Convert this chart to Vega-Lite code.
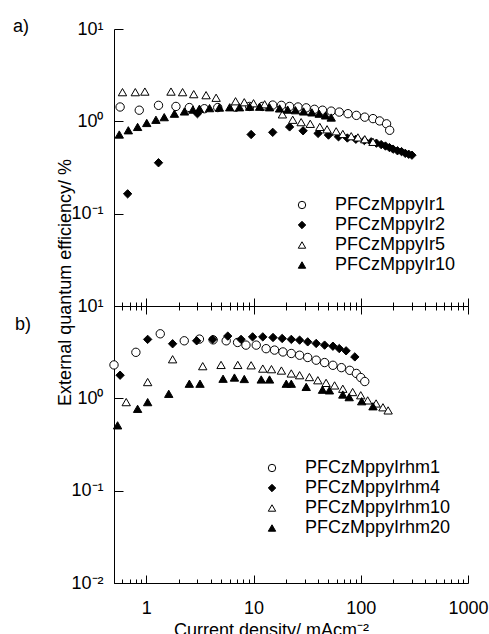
{
  "$schema": "https://vega.github.io/schema/vega-lite/v6.json",
  "background": "white",
  "padding": {"left": 13, "top": 18, "right": 5, "bottom": 0},
  "bounds": "flush",
  "spacing": 0,
  "config": {
    "font": "Liberation Sans",
    "view": {"stroke": null},
    "axis": {"labelFont": "Liberation Sans", "titleFont": "Liberation Sans", "labelColor": "black", "titleColor": "black", "domainColor": "black", "tickColor": "black", "grid": false, "titleFontWeight": "normal", "labelFontSize": 18, "titleFontSize": 18, "domainWidth": 1, "tickWidth": 1, "labelFlush": false, "labelOverlap": false},
    "legend": {"orient": "none", "title": null, "labelFontSize": 18, "labelFont": "Liberation Sans", "labelColor": "black", "symbolStrokeWidth": 1, "padding": 0, "rowPadding": 2, "labelOffset": 24, "symbolSize": 55},
    "title": {"font": "Liberation Sans", "fontSize": 18, "fontWeight": "normal", "color": "black"}
  },
  "resolve": {"scale": {"y": "independent", "shape": "independent", "fill": "independent", "stroke": "independent"}},
  "vconcat": [
    {
      "width": 354,
      "height": 277,
      "title": {"text": "a)", "anchor": "start", "frame": "group", "dx": -101, "dy": 16, "offset": 0},
      "data": {"values": [
        {"s": "PFCzMppyIr1", "j": 0.57, "e": 1.43}, {"s": "PFCzMppyIr1", "j": 0.86, "e": 1.32}, {"s": "PFCzMppyIr1", "j": 1.30, "e": 1.49}, {"s": "PFCzMppyIr1", "j": 1.89, "e": 1.45}, {"s": "PFCzMppyIr1", "j": 2.52, "e": 1.41}, {"s": "PFCzMppyIr1", "j": 3.48, "e": 1.37}, {"s": "PFCzMppyIr1", "j": 4.64, "e": 1.41}, {"s": "PFCzMppyIr1", "j": 6.8, "e": 1.42}, {"s": "PFCzMppyIr1", "j": 9.2, "e": 1.45}, {"s": "PFCzMppyIr1", "j": 12.1, "e": 1.45}, {"s": "PFCzMppyIr1", "j": 15.1, "e": 1.5}, {"s": "PFCzMppyIr1", "j": 18.2, "e": 1.49}, {"s": "PFCzMppyIr1", "j": 21.7, "e": 1.45}, {"s": "PFCzMppyIr1", "j": 26, "e": 1.43}, {"s": "PFCzMppyIr1", "j": 31, "e": 1.4}, {"s": "PFCzMppyIr1", "j": 37, "e": 1.35}, {"s": "PFCzMppyIr1", "j": 44, "e": 1.32}, {"s": "PFCzMppyIr1", "j": 53, "e": 1.29}, {"s": "PFCzMppyIr1", "j": 63, "e": 1.26}, {"s": "PFCzMppyIr1", "j": 76, "e": 1.21}, {"s": "PFCzMppyIr1", "j": 91, "e": 1.16}, {"s": "PFCzMppyIr1", "j": 109, "e": 1.11}, {"s": "PFCzMppyIr1", "j": 130, "e": 1.07}, {"s": "PFCzMppyIr1", "j": 150, "e": 1.01}, {"s": "PFCzMppyIr1", "j": 174, "e": 0.94}, {"s": "PFCzMppyIr1", "j": 186, "e": 0.8},
        {"s": "PFCzMppyIr2", "j": 0.67, "e": 0.164}, {"s": "PFCzMppyIr2", "j": 1.30, "e": 0.356}, {"s": "PFCzMppyIr2", "j": 3.0, "e": 1.21}, {"s": "PFCzMppyIr2", "j": 9.5, "e": 0.72}, {"s": "PFCzMppyIr2", "j": 15.1, "e": 0.76}, {"s": "PFCzMppyIr2", "j": 21.7, "e": 0.87}, {"s": "PFCzMppyIr2", "j": 29, "e": 0.79}, {"s": "PFCzMppyIr2", "j": 40, "e": 0.74}, {"s": "PFCzMppyIr2", "j": 50, "e": 0.71}, {"s": "PFCzMppyIr2", "j": 62, "e": 0.68}, {"s": "PFCzMppyIr2", "j": 75, "e": 0.66}, {"s": "PFCzMppyIr2", "j": 90, "e": 0.64}, {"s": "PFCzMppyIr2", "j": 108, "e": 0.62}, {"s": "PFCzMppyIr2", "j": 125, "e": 0.6}, {"s": "PFCzMppyIr2", "j": 140, "e": 0.58}, {"s": "PFCzMppyIr2", "j": 155, "e": 0.56}, {"s": "PFCzMppyIr2", "j": 170, "e": 0.54}, {"s": "PFCzMppyIr2", "j": 185, "e": 0.52}, {"s": "PFCzMppyIr2", "j": 200, "e": 0.5}, {"s": "PFCzMppyIr2", "j": 220, "e": 0.48}, {"s": "PFCzMppyIr2", "j": 240, "e": 0.47}, {"s": "PFCzMppyIr2", "j": 260, "e": 0.45}, {"s": "PFCzMppyIr2", "j": 280, "e": 0.44}, {"s": "PFCzMppyIr2", "j": 300, "e": 0.43},
        {"s": "PFCzMppyIr5", "j": 0.6, "e": 2.07}, {"s": "PFCzMppyIr5", "j": 0.79, "e": 2.07}, {"s": "PFCzMppyIr5", "j": 0.97, "e": 2.1}, {"s": "PFCzMppyIr5", "j": 1.7, "e": 2.1}, {"s": "PFCzMppyIr5", "j": 2.18, "e": 2.07}, {"s": "PFCzMppyIr5", "j": 2.77, "e": 1.97}, {"s": "PFCzMppyIr5", "j": 3.61, "e": 1.92}, {"s": "PFCzMppyIr5", "j": 4.48, "e": 1.8}, {"s": "PFCzMppyIr5", "j": 6.8, "e": 1.65}, {"s": "PFCzMppyIr5", "j": 8.2, "e": 1.61}, {"s": "PFCzMppyIr5", "j": 10, "e": 1.57}, {"s": "PFCzMppyIr5", "j": 12.7, "e": 1.53}, {"s": "PFCzMppyIr5", "j": 18.6, "e": 1.19}, {"s": "PFCzMppyIr5", "j": 23.2, "e": 1.04}, {"s": "PFCzMppyIr5", "j": 27.8, "e": 0.98}, {"s": "PFCzMppyIr5", "j": 33.8, "e": 0.94}, {"s": "PFCzMppyIr5", "j": 41.5, "e": 0.87}, {"s": "PFCzMppyIr5", "j": 48.5, "e": 0.82}, {"s": "PFCzMppyIr5", "j": 59, "e": 0.78}, {"s": "PFCzMppyIr5", "j": 68, "e": 0.73}, {"s": "PFCzMppyIr5", "j": 81.5, "e": 0.69}, {"s": "PFCzMppyIr5", "j": 94, "e": 0.67}, {"s": "PFCzMppyIr5", "j": 109, "e": 0.64}, {"s": "PFCzMppyIr5", "j": 130, "e": 0.6},
        {"s": "PFCzMppyIr10", "j": 0.56, "e": 0.72}, {"s": "PFCzMppyIr10", "j": 0.68, "e": 0.8}, {"s": "PFCzMppyIr10", "j": 0.83, "e": 0.87}, {"s": "PFCzMppyIr10", "j": 1.01, "e": 0.96}, {"s": "PFCzMppyIr10", "j": 1.23, "e": 1.04}, {"s": "PFCzMppyIr10", "j": 1.47, "e": 1.11}, {"s": "PFCzMppyIr10", "j": 1.83, "e": 1.21}, {"s": "PFCzMppyIr10", "j": 2.27, "e": 1.28}, {"s": "PFCzMppyIr10", "j": 2.72, "e": 1.34}, {"s": "PFCzMppyIr10", "j": 3.13, "e": 1.37}, {"s": "PFCzMppyIr10", "j": 3.89, "e": 1.39}, {"s": "PFCzMppyIr10", "j": 4.81, "e": 1.41}, {"s": "PFCzMppyIr10", "j": 6.0, "e": 1.42}, {"s": "PFCzMppyIr10", "j": 7.4, "e": 1.42}, {"s": "PFCzMppyIr10", "j": 9.2, "e": 1.44}, {"s": "PFCzMppyIr10", "j": 11.4, "e": 1.44}, {"s": "PFCzMppyIr10", "j": 14.1, "e": 1.42}, {"s": "PFCzMppyIr10", "j": 17.5, "e": 1.38}, {"s": "PFCzMppyIr10", "j": 20.8, "e": 1.34}, {"s": "PFCzMppyIr10", "j": 24.6, "e": 1.32}, {"s": "PFCzMppyIr10", "j": 29.3, "e": 1.28}, {"s": "PFCzMppyIr10", "j": 35, "e": 1.25}, {"s": "PFCzMppyIr10", "j": 41, "e": 1.21}, {"s": "PFCzMppyIr10", "j": 47, "e": 1.16}, {"s": "PFCzMppyIr10", "j": 53, "e": 1.1}
      ]},
      "mark": {"type": "point", "filled": true, "strokeWidth": 1, "opacity": 1, "size": 70},
      "encoding": {
        "x": {"field": "j", "type": "quantitative", "scale": {"type": "log", "domain": [0.5, 1000], "nice": false},
          "axis": {"orient": "bottom", "values": [0.5, 0.6, 0.7, 0.8, 0.9, 1, 2, 3, 4, 5, 6, 7, 8, 9, 10, 20, 30, 40, 50, 60, 70, 80, 90, 100, 200, 300, 400, 500, 600, 700, 800, 900, 1000], "labels": false, "title": null,
            "tickSize": {"condition": {"test": "datum.value == 1 || datum.value == 10 || datum.value == 100 || datum.value == 1000", "value": -8}, "value": -4}}},
        "y": {"field": "e", "type": "quantitative", "scale": {"type": "log", "domain": [0.01, 10], "nice": false},
          "axis": {"values": [0.1, 1, 10], "tickSize": -9, "labelPadding": 20, "labelExpr": "datum.value == 10 ? '10¹' : datum.value == 1 ? '10⁰' : datum.value == 0.1 ? '10⁻¹' : ''",
            "title": "External quantum efficiency/ %", "titleX": -44, "titleY": 253, "titleAlign": "center", "titleBaseline": "alphabetic", "titleAngle": -90}},
        "shape": {"field": "s", "type": "nominal", "scale": {"domain": ["PFCzMppyIr1", "PFCzMppyIr2", "PFCzMppyIr5", "PFCzMppyIr10"], "range": ["circle", "diamond", "triangle-up", "triangle-up"]},
          "legend": {"legendX": 179, "legendY": 167}},
        "fill": {"field": "s", "type": "nominal", "scale": {"domain": ["PFCzMppyIr1", "PFCzMppyIr2", "PFCzMppyIr5", "PFCzMppyIr10"], "range": ["white", "black", "white", "black"]},
          "legend": {"legendX": 179, "legendY": 167}},
        "stroke": {"field": "s", "type": "nominal", "scale": {"domain": ["PFCzMppyIr1", "PFCzMppyIr2", "PFCzMppyIr5", "PFCzMppyIr10"], "range": ["black", "black", "black", "black"]},
          "legend": {"legendX": 179, "legendY": 167}}
      }
    },
    {
      "width": 354,
      "height": 277,
      "title": {"text": "b)", "anchor": "start", "frame": "group", "dx": -99, "dy": 37, "offset": 0},
      "data": {"values": [
        {"s": "PFCzMppyIrhm1", "j": 0.5, "e": 2.3}, {"s": "PFCzMppyIrhm1", "j": 0.8, "e": 3.15}, {"s": "PFCzMppyIrhm1", "j": 1.35, "e": 5.0}, {"s": "PFCzMppyIrhm1", "j": 2.26, "e": 4.2}, {"s": "PFCzMppyIrhm1", "j": 3.13, "e": 4.38}, {"s": "PFCzMppyIrhm1", "j": 4.2, "e": 4.3}, {"s": "PFCzMppyIrhm1", "j": 5.56, "e": 4.2}, {"s": "PFCzMppyIrhm1", "j": 7.1, "e": 4.03}, {"s": "PFCzMppyIrhm1", "j": 8.5, "e": 3.77}, {"s": "PFCzMppyIrhm1", "j": 10.6, "e": 3.77}, {"s": "PFCzMppyIrhm1", "j": 13.1, "e": 3.45}, {"s": "PFCzMppyIrhm1", "j": 15.7, "e": 3.33}, {"s": "PFCzMppyIrhm1", "j": 18.8, "e": 3.18}, {"s": "PFCzMppyIrhm1", "j": 22.5, "e": 3.06}, {"s": "PFCzMppyIrhm1", "j": 26.9, "e": 2.93}, {"s": "PFCzMppyIrhm1", "j": 32, "e": 2.77}, {"s": "PFCzMppyIrhm1", "j": 38.4, "e": 2.59}, {"s": "PFCzMppyIrhm1", "j": 46, "e": 2.44}, {"s": "PFCzMppyIrhm1", "j": 55, "e": 2.28}, {"s": "PFCzMppyIrhm1", "j": 66, "e": 2.15}, {"s": "PFCzMppyIrhm1", "j": 79, "e": 2.01}, {"s": "PFCzMppyIrhm1", "j": 91, "e": 1.86}, {"s": "PFCzMppyIrhm1", "j": 100, "e": 1.68}, {"s": "PFCzMppyIrhm1", "j": 109, "e": 1.52},
        {"s": "PFCzMppyIrhm4", "j": 0.57, "e": 1.78}, {"s": "PFCzMppyIrhm4", "j": 1.03, "e": 4.35}, {"s": "PFCzMppyIrhm4", "j": 1.76, "e": 3.9}, {"s": "PFCzMppyIrhm4", "j": 2.95, "e": 4.2}, {"s": "PFCzMppyIrhm4", "j": 4.17, "e": 4.35}, {"s": "PFCzMppyIrhm4", "j": 5.75, "e": 4.72}, {"s": "PFCzMppyIrhm4", "j": 7.65, "e": 4.35}, {"s": "PFCzMppyIrhm4", "j": 9.8, "e": 4.63}, {"s": "PFCzMppyIrhm4", "j": 12.2, "e": 4.63}, {"s": "PFCzMppyIrhm4", "j": 15.2, "e": 4.56}, {"s": "PFCzMppyIrhm4", "j": 18.5, "e": 4.45}, {"s": "PFCzMppyIrhm4", "j": 22.5, "e": 4.35}, {"s": "PFCzMppyIrhm4", "j": 26.9, "e": 4.27}, {"s": "PFCzMppyIrhm4", "j": 32, "e": 4.09}, {"s": "PFCzMppyIrhm4", "j": 38.4, "e": 3.93}, {"s": "PFCzMppyIrhm4", "j": 46, "e": 3.77}, {"s": "PFCzMppyIrhm4", "j": 55, "e": 3.67}, {"s": "PFCzMppyIrhm4", "j": 63, "e": 3.46}, {"s": "PFCzMppyIrhm4", "j": 73, "e": 3.27}, {"s": "PFCzMppyIrhm4", "j": 88, "e": 2.81},
        {"s": "PFCzMppyIrhm10", "j": 0.65, "e": 0.91}, {"s": "PFCzMppyIrhm10", "j": 1.03, "e": 1.5}, {"s": "PFCzMppyIrhm10", "j": 1.76, "e": 2.65}, {"s": "PFCzMppyIrhm10", "j": 3.36, "e": 2.23}, {"s": "PFCzMppyIrhm10", "j": 4.98, "e": 2.3}, {"s": "PFCzMppyIrhm10", "j": 7.13, "e": 2.3}, {"s": "PFCzMppyIrhm10", "j": 9.5, "e": 2.28}, {"s": "PFCzMppyIrhm10", "j": 12.2, "e": 2.1}, {"s": "PFCzMppyIrhm10", "j": 14.7, "e": 2.07}, {"s": "PFCzMppyIrhm10", "j": 18.2, "e": 2.0}, {"s": "PFCzMppyIrhm10", "j": 22.5, "e": 1.86}, {"s": "PFCzMppyIrhm10", "j": 26.9, "e": 1.78}, {"s": "PFCzMppyIrhm10", "j": 33.2, "e": 1.7}, {"s": "PFCzMppyIrhm10", "j": 39.8, "e": 1.57}, {"s": "PFCzMppyIrhm10", "j": 47.5, "e": 1.47}, {"s": "PFCzMppyIrhm10", "j": 57, "e": 1.38}, {"s": "PFCzMppyIrhm10", "j": 68, "e": 1.27}, {"s": "PFCzMppyIrhm10", "j": 84, "e": 1.17}, {"s": "PFCzMppyIrhm10", "j": 100, "e": 1.08}, {"s": "PFCzMppyIrhm10", "j": 116, "e": 0.95}, {"s": "PFCzMppyIrhm10", "j": 139, "e": 0.88}, {"s": "PFCzMppyIrhm10", "j": 161, "e": 0.8}, {"s": "PFCzMppyIrhm10", "j": 180, "e": 0.74},
        {"s": "PFCzMppyIrhm20", "j": 0.54, "e": 0.51}, {"s": "PFCzMppyIrhm20", "j": 0.83, "e": 0.77}, {"s": "PFCzMppyIrhm20", "j": 1.03, "e": 0.91}, {"s": "PFCzMppyIrhm20", "j": 1.62, "e": 1.12}, {"s": "PFCzMppyIrhm20", "j": 2.52, "e": 1.44}, {"s": "PFCzMppyIrhm20", "j": 3.17, "e": 1.44}, {"s": "PFCzMppyIrhm20", "j": 5.2, "e": 1.63}, {"s": "PFCzMppyIrhm20", "j": 6.64, "e": 1.68}, {"s": "PFCzMppyIrhm20", "j": 8.2, "e": 1.62}, {"s": "PFCzMppyIrhm20", "j": 11.8, "e": 1.6}, {"s": "PFCzMppyIrhm20", "j": 14.1, "e": 1.6}, {"s": "PFCzMppyIrhm20", "j": 20.2, "e": 1.44}, {"s": "PFCzMppyIrhm20", "j": 22.5, "e": 1.44}, {"s": "PFCzMppyIrhm20", "j": 31, "e": 1.33}, {"s": "PFCzMppyIrhm20", "j": 44, "e": 1.24}, {"s": "PFCzMppyIrhm20", "j": 51, "e": 1.22}, {"s": "PFCzMppyIrhm20", "j": 68, "e": 1.1}, {"s": "PFCzMppyIrhm20", "j": 78, "e": 1.03}, {"s": "PFCzMppyIrhm20", "j": 102, "e": 0.93}, {"s": "PFCzMppyIrhm20", "j": 130, "e": 0.82}
      ]},
      "layer": [
        {
          "mark": {"type": "point", "opacity": 0},
          "encoding": {
            "x": {"field": "j", "type": "quantitative", "scale": {"type": "log", "domain": [0.5, 1000], "nice": false},
              "axis": {"orient": "top", "values": [0.5, 0.6, 0.7, 0.8, 0.9, 1, 2, 3, 4, 5, 6, 7, 8, 9, 10, 20, 30, 40, 50, 60, 70, 80, 90, 100, 200, 300, 400, 500, 600, 700, 800, 900, 1000], "labels": false, "title": null,
                "tickSize": {"condition": {"test": "datum.value == 1 || datum.value == 10 || datum.value == 100 || datum.value == 1000", "value": -8}, "value": -4}}}
          }
        },
        {
          "mark": {"type": "point", "filled": true, "strokeWidth": 1, "opacity": 1, "size": 70},
          "encoding": {
            "x": {"field": "j", "type": "quantitative", "scale": {"type": "log", "domain": [0.5, 1000], "nice": false},
              "axis": {"orient": "bottom", "values": [0.5, 0.6, 0.7, 0.8, 0.9, 1, 2, 3, 4, 5, 6, 7, 8, 9, 10, 20, 30, 40, 50, 60, 70, 80, 90, 100, 200, 300, 400, 500, 600, 700, 800, 900, 1000],
                "labelExpr": "datum.value == 1 ? '1' : datum.value == 10 ? '10' : datum.value == 100 ? '100' : datum.value == 1000 ? '1000' : ''",
                "labelPadding": 24, "title": "Current density/ mAcm⁻²", "titleX": 157, "titlePadding": 0,
                "tickSize": {"condition": {"test": "datum.value == 1 || datum.value == 10 || datum.value == 100 || datum.value == 1000", "value": -8}, "value": -4}}},
            "y": {"field": "e", "type": "quantitative", "scale": {"type": "log", "domain": [0.01, 10], "nice": false},
              "axis": {"values": [0.01, 0.1, 1, 10], "tickSize": -9, "labelPadding": 20, "title": null, "labelExpr": "datum.value == 10 ? '10¹' : datum.value == 1 ? '10⁰' : datum.value == 0.1 ? '10⁻¹' : datum.value == 0.01 ? '10⁻²' : ''"}},
            "shape": {"field": "s", "type": "nominal", "scale": {"domain": ["PFCzMppyIrhm1", "PFCzMppyIrhm4", "PFCzMppyIrhm10", "PFCzMppyIrhm20"], "range": ["circle", "diamond", "triangle-up", "triangle-up"]},
              "legend": {"legendX": 149, "legendY": 153}},
            "fill": {"field": "s", "type": "nominal", "scale": {"domain": ["PFCzMppyIrhm1", "PFCzMppyIrhm4", "PFCzMppyIrhm10", "PFCzMppyIrhm20"], "range": ["white", "black", "white", "black"]},
              "legend": {"legendX": 149, "legendY": 153}},
            "stroke": {"field": "s", "type": "nominal", "scale": {"domain": ["PFCzMppyIrhm1", "PFCzMppyIrhm4", "PFCzMppyIrhm10", "PFCzMppyIrhm20"], "range": ["black", "black", "black", "black"]},
              "legend": {"legendX": 149, "legendY": 153}}
          }
        }
      ],
      "resolve": {"axis": {"x": "independent"}}
    }
  ]
}
